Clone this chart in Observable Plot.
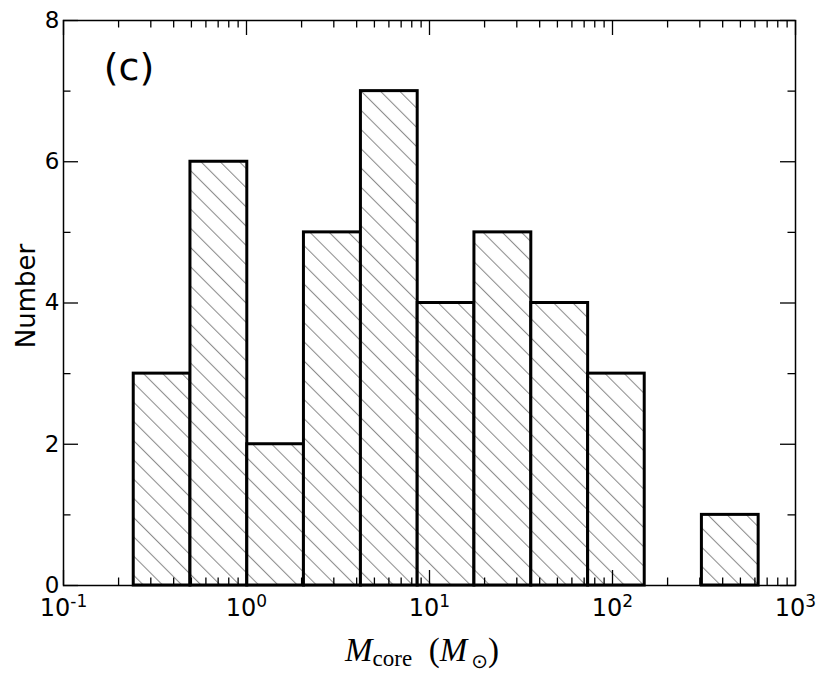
<!DOCTYPE html>
<html>
<head>
<meta charset="utf-8">
<script src="https://cdn.jsdelivr.net/npm/d3@7"></script>
<script src="https://cdn.jsdelivr.net/npm/@observablehq/plot@0.6"></script>
<style>
  html, body { margin: 0; padding: 0; background: #fff; }
  svg { display: block; }
</style>
</head>
<body>
<div id="chart"></div>
<script>
// ---- data ----
const binEdges = [0.242, 0.494, 1.01, 2.06, 4.22, 8.62, 17.6, 36.0, 73.6, 150, 308, 629];
const counts = [3, 6, 2, 5, 7, 4, 5, 4, 3, 0, 1];

const xMajor = [0.1, 1, 10, 100, 1000];
const xExponents = ["-1", "0", "1", "2", "3"];
const xMinor = [0.2, 0.3, 0.4, 0.5, 0.6, 0.7, 0.8, 0.9,
                2, 3, 4, 5, 6, 7, 8, 9,
                20, 30, 40, 50, 60, 70, 80, 90,
                200, 300, 400, 500, 600, 700, 800, 900];
const yMajor = [0, 2, 4, 6, 8];
const yMinor = [1, 3, 5, 7];

const yLabel = "Number";
const panelLabel = "(c)";

// ---- layout ----
const W = 830, H = 673;
const mL = 63, mR = 35, mT = 20, mB = 88;
const pw = W - mL - mR, ph = H - mT - mB;
const majorLen = 15, minorLen = 7.5;

const bins = counts.map((c, i) => ({x1: binEdges[i], x2: binEdges[i + 1], count: c}));
const expOf = new Map(xMajor.map((v, i) => [v, xExponents[i]]));

const tickStyle = {stroke: "black", strokeWidth: 1.3};

const plot = Plot.plot({
  width: W,
  height: H,
  marginLeft: mL,
  marginRight: mR,
  marginTop: mT,
  marginBottom: mB,
  style: {background: "white", fontFamily: "'DejaVu Sans', sans-serif", color: "black"},
  x: {type: "log", domain: [0.1, 1000], axis: null},
  y: {domain: [0, 8], axis: null},
  marks: [
    Plot.rectY(bins, {x1: "x1", x2: "x2", y: "count", fill: "url(#hatch)", stroke: "black", strokeWidth: 3}),
    Plot.frame({stroke: "black", strokeWidth: 1.5}),
    // inward ticks, bottom & top
    Plot.tickX(xMajor, {x: d => d, insetTop: ph - majorLen, ...tickStyle}),
    Plot.tickX(xMajor, {x: d => d, insetBottom: ph - majorLen, ...tickStyle}),
    Plot.tickX(xMinor, {x: d => d, insetTop: ph - minorLen, ...tickStyle}),
    Plot.tickX(xMinor, {x: d => d, insetBottom: ph - minorLen, ...tickStyle}),
    // inward ticks, left & right
    Plot.tickY(yMajor, {y: d => d, insetRight: pw - majorLen, ...tickStyle}),
    Plot.tickY(yMajor, {y: d => d, insetLeft: pw - majorLen, ...tickStyle}),
    Plot.tickY(yMinor, {y: d => d, insetRight: pw - minorLen, ...tickStyle}),
    Plot.tickY(yMinor, {y: d => d, insetLeft: pw - minorLen, ...tickStyle}),
    // tick labels
    Plot.axisX(xMajor, {anchor: "bottom", tickSize: 0, tickPadding: 13, fontSize: 23,
      tickFormat: d => "10^" + expOf.get(d), label: null}),
    Plot.axisY(yMajor, {anchor: "left", tickSize: 0, tickPadding: 4, fontSize: 23,
      tickFormat: d => String(d), label: null})
  ]
});

const svg = d3.select(plot);

// hatch pattern (matplotlib "\\" hatch)
const defs = svg.insert("defs", ":first-child");
const pat = defs.append("pattern")
  .attr("id", "hatch")
  .attr("patternUnits", "userSpaceOnUse")
  .attr("width", 13.6)
  .attr("height", 13.6)
  .attr("patternTransform", "rotate(-45)");
pat.append("rect").attr("width", 13.6).attr("height", 13.6).attr("fill", "white");
pat.append("line").attr("x1", 0.5).attr("y1", 0).attr("x2", 0.5).attr("y2", 13.6)
  .attr("stroke", "#8c8c8c").attr("stroke-width", 1.1);

// tick label font sizes
svg.selectAll('g[aria-label="y-axis tick label"] text').attr("font-size", 23);
// superscript exponents on x tick labels
svg.selectAll('g[aria-label="x-axis tick label"] text').each(function() {
  const t = d3.select(this);
  const exp = t.text().split("^")[1];
  t.attr("font-size", 24);
  t.text(null);
  t.append("tspan").text("10");
  t.append("tspan").attr("font-size", 17).attr("dy", -9).text(exp);
});

// y label
svg.append("text")
  .attr("transform", "translate(35,296) rotate(-90)")
  .attr("text-anchor", "middle")
  .attr("font-family", "'DejaVu Sans', sans-serif")
  .attr("font-size", 26)
  .attr("fill", "black")
  .text(yLabel);

// x label: M_core (M_sun)
const xl = svg.append("text")
  .attr("x", 422).attr("y", 661)
  .attr("text-anchor", "middle")
  .attr("font-family", "'Liberation Serif', 'DejaVu Serif', serif")
  .attr("font-size", 33)
  .attr("fill", "black");
xl.append("tspan").attr("font-style", "italic").text("M");
xl.append("tspan").attr("font-size", 23).attr("dy", 5).text("core");
xl.append("tspan").attr("dy", -5).text("\u2002(");
xl.append("tspan").attr("font-style", "italic").text("M");
xl.append("tspan").attr("font-size", 20).attr("dy", 7).attr("font-family", "'DejaVu Sans', sans-serif").text("\u2009\u2299");
xl.append("tspan").attr("dy", -7).text(")");

// panel label
svg.append("text")
  .attr("x", 129).attr("y", 80)
  .attr("text-anchor", "middle")
  .attr("font-family", "'DejaVu Sans', sans-serif")
  .attr("font-size", 38)
  .attr("fill", "black")
  .text(panelLabel);

document.getElementById("chart").appendChild(plot);
</script>
</body>
</html>
